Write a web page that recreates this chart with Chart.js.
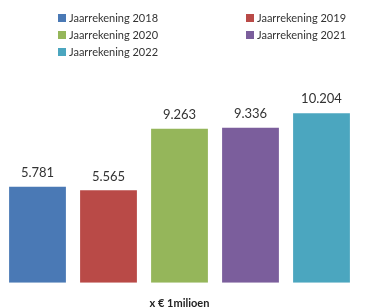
<!DOCTYPE html>
<html>
<head>
<meta charset="utf-8">
<script src="https://cdn.jsdelivr.net/npm/chart.js@4/dist/chart.umd.min.js"></script>
<style>
  body { margin: 0; background: #fff; }
  #wrap { position: relative; width: 369px; height: 308px; }
  #legend {
    position: absolute; left: 58px; top: 9px;
    display: grid; grid-template-columns: 188px auto; row-gap: 0;
    font-family: Lato, "Open Sans", sans-serif; font-size: 11px; color: #333;
  }
  .item { height: 17px; line-height: 17px; display: flex; align-items: center; }
  .box { width: 8px; height: 8px; margin-right: 3px; display: inline-block; }
</style>
</head>
<body>
<div id="wrap">
  <canvas id="chart" width="369" height="308"></canvas>
  <div id="legend"></div>
</div>
<script>
// --- Data ---
const labels = ['Jaarrekening 2018', 'Jaarrekening 2019', 'Jaarrekening 2020', 'Jaarrekening 2021', 'Jaarrekening 2022'];
const values = [5781, 5565, 9263, 9336, 10204];
const colors = ['#4a79b5', '#b94a47', '#95b65a', '#7b5e9c', '#4ba6bf'];
const axisTitle = 'x € 1milioen';

// --- Legend (two columns, like the original) ---
const legend = document.getElementById('legend');
labels.forEach((lab, i) => {
  const div = document.createElement('div');
  div.className = 'item';
  div.innerHTML = '<span class="box" style="background:' + colors[i] + '"></span>' + lab;
  legend.appendChild(div);
});

// value labels above each bar
const valueLabels = {
  id: 'valueLabels',
  afterDatasetsDraw(chart) {
    const ctx = chart.ctx;
    const meta = chart.getDatasetMeta(0);
    ctx.save();
    ctx.font = '13px Lato, "Open Sans", sans-serif';
    ctx.fillStyle = '#333';
    ctx.textAlign = 'center';
    ctx.textBaseline = 'middle';
    meta.data.forEach((bar, i) => {
      ctx.fillText(values[i].toLocaleString('nl-NL'), bar.x, bar.y - 14);
    });
    ctx.restore();
  }
};

new Chart(document.getElementById('chart').getContext('2d'), {
  type: 'bar',
  data: {
    labels: labels,
    datasets: [{ data: values, backgroundColor: colors, categoryPercentage: 0.8, barPercentage: 1 }]
  },
  options: {
    responsive: false,
    animation: false,
    layout: { padding: { left: 2, right: 12, top: 100, bottom: -2 } },
    plugins: { legend: { display: false }, tooltip: { enabled: false } },
    scales: {
      x: {
        grid: { display: false },
        border: { display: false },
        ticks: { display: false },
        title: {
          display: true, text: axisTitle, color: '#222',
          font: { family: 'Lato, "Open Sans", sans-serif', size: 11, weight: 'bold' },
          padding: { top: 6, bottom: 0 }
        }
      },
      y: { display: false, min: 0, max: 11000 }
    }
  },
  plugins: [valueLabels]
});
</script>
</body>
</html>
